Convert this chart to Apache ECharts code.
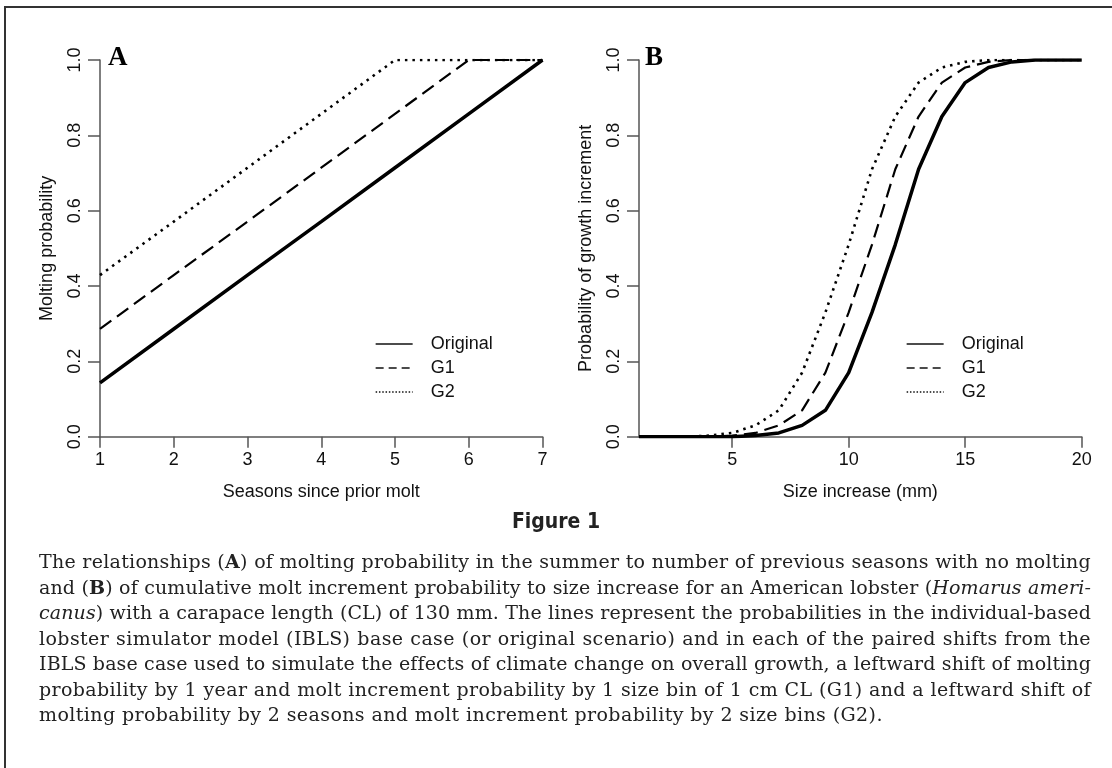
<!DOCTYPE html>
<html>
<head>
<meta charset="utf-8">
<script src="https://cdn.jsdelivr.net/npm/echarts@6/dist/echarts.min.js"></script>
<style>
  html, body { margin: 0; padding: 0; background: #fff; }
  #wrap { position: relative; width: 1112px; height: 768px; overflow: hidden; }
  #frame { position: absolute; left: 4px; top: 6px; right: -10px; bottom: -10px;
           border-top: 2px solid #333; border-left: 2px solid #333; }
  #chart { position: absolute; left: 0; top: 0; width: 1112px; height: 768px; }
  #figtitle { position: absolute; left: 0; width: 1112px; top: 509px; text-align: center;
              font-family: "Liberation Sans Narrow", "DejaVu Sans Condensed", sans-serif;
              font-stretch: condensed; font-weight: bold; font-size: 21px; color: #222; }
  #cap { position: absolute; left: 39px; width: 1052px; top: 549px;
         font-family: "DejaVu Serif", serif;
         font-size: 19px; line-height: 25.5px; letter-spacing: 0.4px; color: #222; }
  #cap div { white-space: nowrap; }
  #cap .ln { text-align: justify; text-align-last: justify; }
</style>
</head>
<body>
<div id="wrap">
  <div id="chart"></div>
  <div id="frame"></div>
  <div id="figtitle">Figure 1</div>
  <div id="cap">
    <div class="ln">The relationships (<b>A</b>) of molting probability in the summer to number of previous seasons with no molting</div>
    <div class="ln">and (<b>B</b>) of cumulative molt increment probability to size increase for an American lobster (<i>Homarus ameri-</i></div>
    <div class="ln"><i>canus</i>) with a carapace length (CL) of 130 mm. The lines represent the probabilities in the individual-based</div>
    <div class="ln">lobster simulator model (IBLS) base case (or original scenario) and in each of the paired shifts from the</div>
    <div class="ln">IBLS base case used to simulate the effects of climate change on overall growth, a leftward shift of molting</div>
    <div class="ln">probability by 1 year and molt increment probability by 1 size bin of 1 cm CL (G1) and a leftward shift of</div>
    <div>molting probability by 2 seasons and molt increment probability by 2 size bins (G2).</div>
  </div>
</div>
<script>
// panel A: molting probability vs seasons since prior molt
const seasons = [1, 2, 3, 4, 5, 6, 7];
const moltOriginal = [0.143, 0.286, 0.429, 0.571, 0.714, 0.857, 1.0];
const moltG1 = [0.286, 0.429, 0.571, 0.714, 0.857, 1.0, 1.0];
const moltG2 = [0.429, 0.571, 0.714, 0.857, 1.0, 1.0, 1.0];

// panel B: cumulative probability of growth increment vs size increase (mm)
const sizeMm = [1, 2, 3, 4, 5, 6, 7, 8, 9, 10, 11, 12, 13, 14, 15, 16, 17, 18, 19, 20];
const incOriginal = [0, 0, 0, 0, 0, 0.003, 0.01, 0.03, 0.07, 0.17, 0.33, 0.51, 0.71, 0.85, 0.94, 0.98, 0.995, 1, 1, 1];
const incG1 = [0, 0, 0, 0, 0.003, 0.01, 0.03, 0.07, 0.17, 0.33, 0.51, 0.71, 0.85, 0.94, 0.98, 0.995, 1, 1, 1, 1];
const incG2 = [0, 0, 0, 0.003, 0.01, 0.03, 0.07, 0.17, 0.33, 0.51, 0.71, 0.85, 0.94, 0.98, 0.995, 1, 1, 1, 1, 1];

const sizeTicks = [5, 10, 15, 20];
const seriesNames = ['Original', 'G1', 'G2'];

const FONT = 'Liberation Sans';
const styles = {
    Original: { type: 'solid', width: 3.5 },
    G1: { type: [14, 7], width: 2.2 },
    G2: { type: [2.5, 5], width: 2.6 }
};
const legendStyles = {
    Original: { type: 'solid', width: 1.3, color: '#111' },
    G1: { type: [8, 5], width: 1.3, color: '#111' },
    G2: { type: [1.5, 1.8], width: 1.3, color: '#111' }
};

// keep every caption line inside the column: tighten letter spacing if a line is too long
document.querySelectorAll('#cap .ln').forEach(el => {
    el.style.display = 'inline-block';
    el.style.textAlignLast = 'auto';
    const w = el.getBoundingClientRect().width;
    if (w > 1050) {
        el.style.letterSpacing = (0.4 - (w - 1050) / el.textContent.length) + 'px';
    }
    el.style.display = '';
    el.style.textAlignLast = '';
});

function zip(xs, ys) {
    return xs.map((x, i) => [x, ys[i]]);
}

function xAxisOf(idx, min, max, name, ticks) {
    const ax = {
        type: 'value', gridIndex: idx, min: min, max: max,
        name: name, nameLocation: 'middle', nameGap: 46,
        nameTextStyle: { fontFamily: FONT, fontSize: 18, color: '#111' },
        splitLine: { show: false },
        axisLine: { onZero: false, lineStyle: { color: '#555', width: 1.5 } },
        axisTick: { length: 11, lineStyle: { color: '#555', width: 1.5 } },
        axisLabel: { margin: 14, fontFamily: FONT, fontSize: 18, color: '#111' }
    };
    if (ticks) {
        ax.axisTick.customValues = ticks;
        ax.axisLabel.customValues = ticks;
    } else {
        ax.interval = 1;
    }
    return ax;
}

function yAxisOf(idx, name) {
    return {
        type: 'value', gridIndex: idx, min: 0, max: 1, interval: 0.2,
        name: name, nameLocation: 'middle', nameGap: 44,
        nameTextStyle: { fontFamily: FONT, fontSize: 18, color: '#111' },
        splitLine: { show: false },
        axisLine: { show: true, onZero: false, lineStyle: { color: '#555', width: 1.5 } },
        axisTick: { show: true, length: 12, lineStyle: { color: '#555', width: 1.5 } },
        axisLabel: { rotate: 90, margin: 16, fontFamily: FONT, fontSize: 18, color: '#111',
                     formatter: v => v.toFixed(1) }
    };
}

function lineSeries(name, idx, data) {
    return {
        name: name, type: 'line', xAxisIndex: idx, yAxisIndex: idx,
        data: data, symbol: 'none', silent: true, animation: false,
        itemStyle: { color: '#000' },
        lineStyle: Object.assign({ color: '#000', cap: 'butt' }, styles[name])
    };
}

function legendOf(left) {
    return {
        orient: 'vertical', left: left, top: 335, padding: 0,
        itemWidth: 37, itemHeight: 18, itemGap: 6,
        selectedMode: false,
        itemStyle: { color: 'transparent', opacity: 0, borderWidth: 0 },
        textStyle: { fontFamily: FONT, fontSize: 18, color: '#111', padding: [0, 0, 0, 13] },
        data: seriesNames.map(n => ({ name: n, lineStyle: legendStyles[n] }))
    };
}

const chart = echarts.init(document.getElementById('chart'), null, { renderer: 'canvas' });
chart.setOption({
    animation: false,
    title: [
        { text: 'A', left: 103, top: 40, textStyle: { fontFamily: 'Liberation Serif', fontWeight: 'bold', fontSize: 27, color: '#000' } },
        { text: 'B', left: 640, top: 40, textStyle: { fontFamily: 'Liberation Serif', fontWeight: 'bold', fontSize: 27, color: '#000' } }
    ],
    grid: [
        { left: 100, top: 60, width: 442.5, height: 376.7 },
        { left: 639, top: 60, width: 442.7, height: 376.7 }
    ],
    xAxis: [
        xAxisOf(0, 1, 7, 'Seasons since prior molt', null),
        xAxisOf(1, 1, 20, 'Size increase (mm)', sizeTicks)
    ],
    yAxis: [
        yAxisOf(0, 'Molting probability'),
        yAxisOf(1, 'Probability of growth increment')
    ],
    legend: [legendOf(375), legendOf(906)],
    series: [
        lineSeries('Original', 0, zip(seasons, moltOriginal)),
        lineSeries('G1', 0, zip(seasons, moltG1)),
        lineSeries('G2', 0, zip(seasons, moltG2)),
        lineSeries('Original', 1, zip(sizeMm, incOriginal)),
        lineSeries('G1', 1, zip(sizeMm, incG1)),
        lineSeries('G2', 1, zip(sizeMm, incG2))
    ]
});
</script>
</body>
</html>
